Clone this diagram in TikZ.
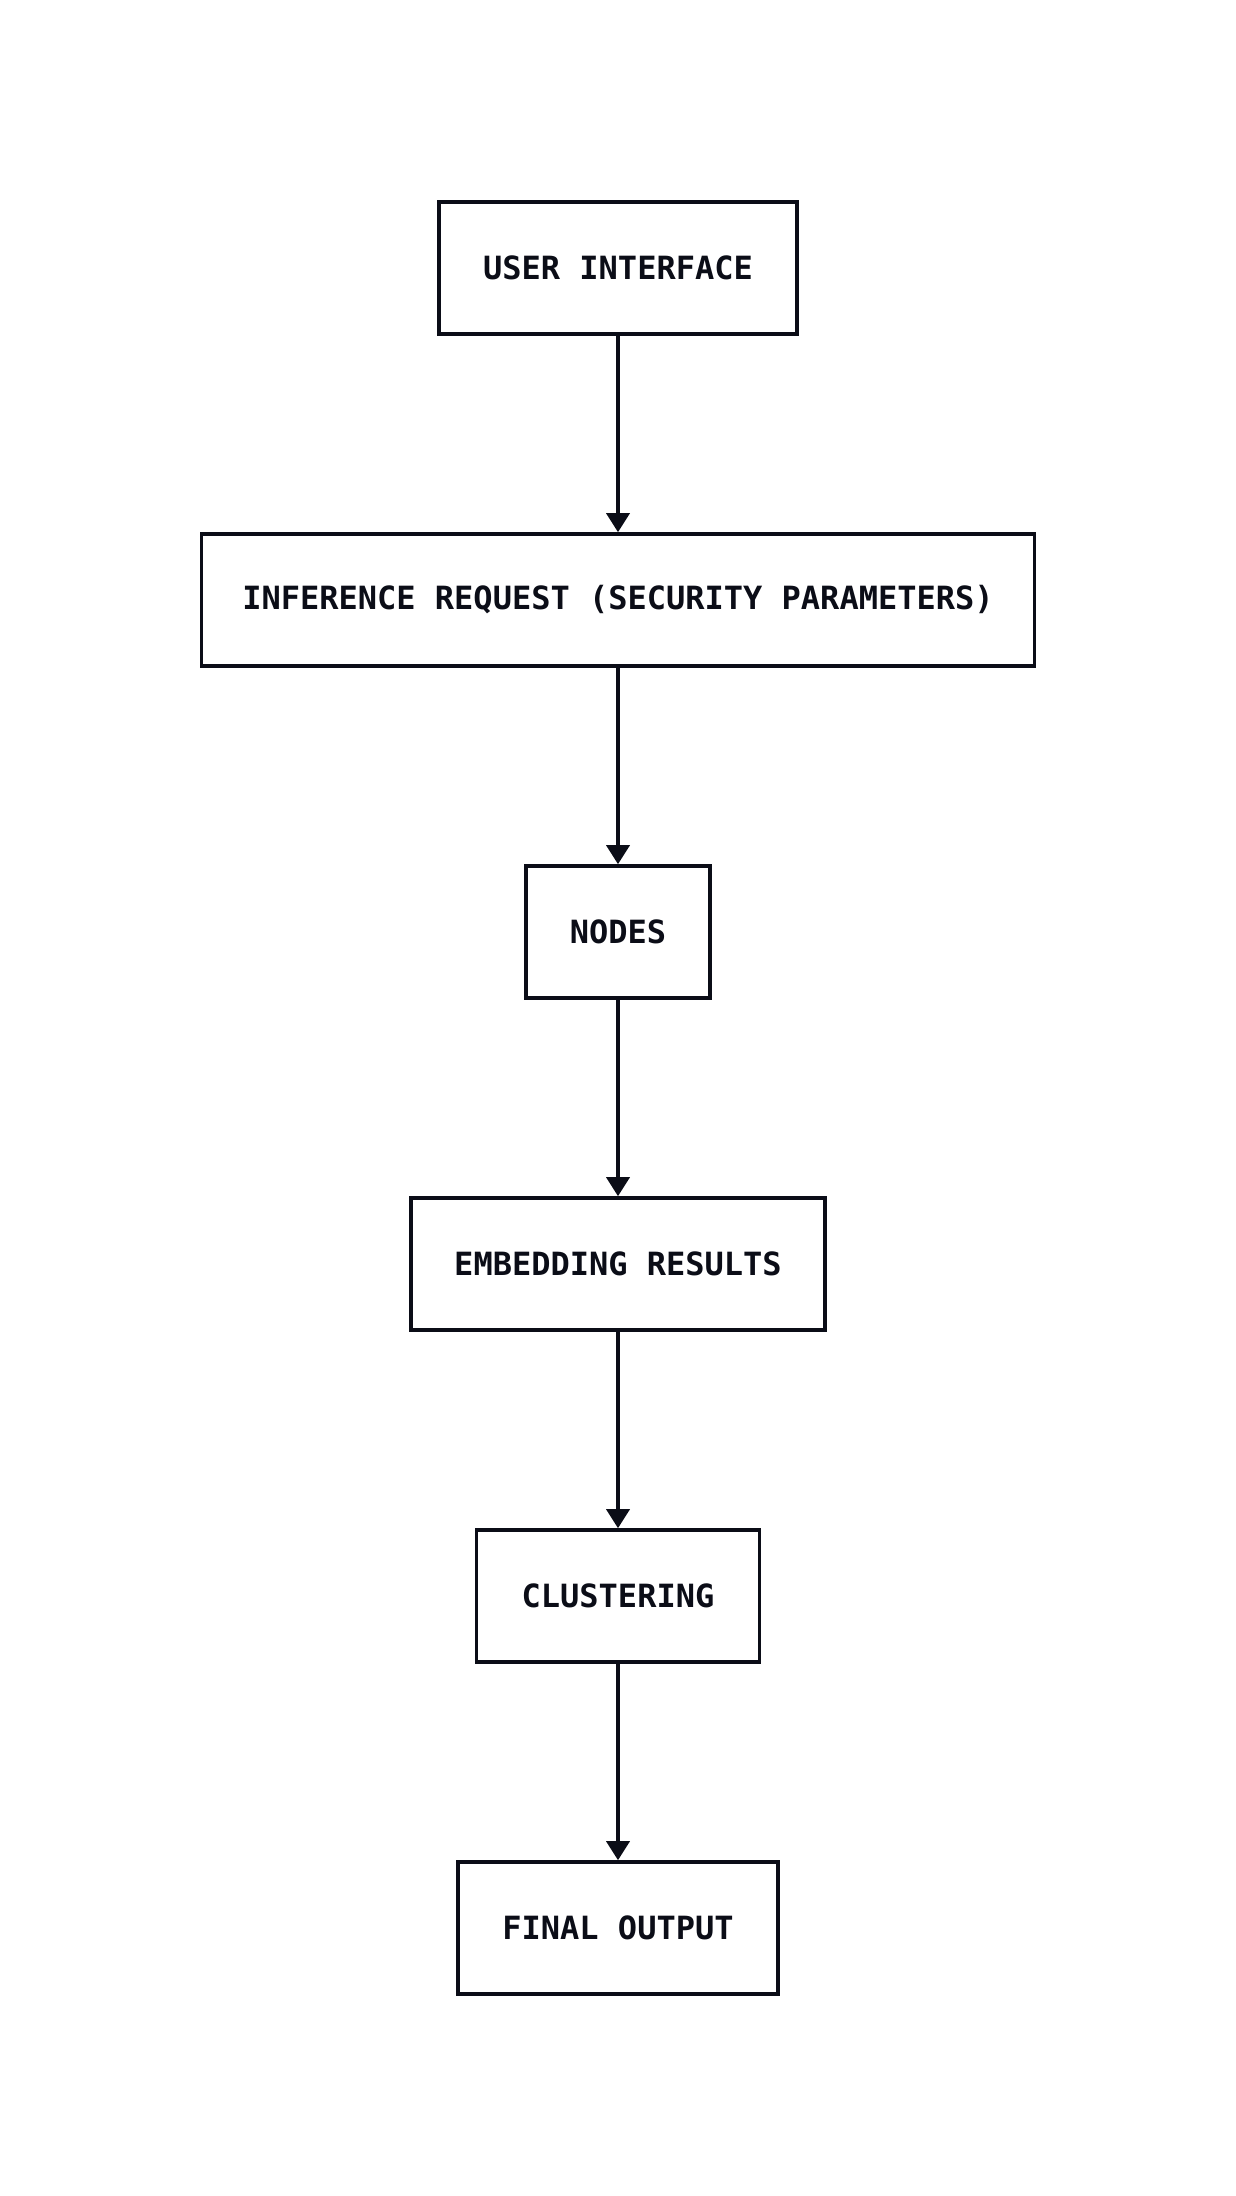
\documentclass[tikz,border=0pt]{standalone}
\usepackage{fontspec}
\setmonofont{DejaVu Sans Mono}
\usetikzlibrary{arrows.meta}
\definecolor{ink}{HTML}{0B0D17}
\begin{document}
\begin{tikzpicture}[x=1pt,y=-1pt,
  box/.style={draw=ink,line width=3.6pt,rectangle,inner sep=0pt,minimum height=132pt,
    text=ink,font=\fontsize{32}{38}\selectfont\ttfamily\bfseries},
  link/.style={draw=ink,line width=3.6pt,-{Triangle[width=23pt,length=19pt]}}]
\useasboundingbox (0,0) rectangle (1236,2196);
\node[box,minimum width=358pt] (ui) at (618,268) {USER INTERFACE};
\node[box,minimum width=833pt] (ir) at (618,600) {INFERENCE REQUEST (SECURITY PARAMETERS)};
\node[box,minimum width=184pt] (nd) at (618,932) {NODES};
\node[box,minimum width=414pt] (er) at (618,1264) {EMBEDDING RESULTS};
\node[box,minimum width=283pt] (cl) at (618,1596) {CLUSTERING};
\node[box,minimum width=320pt] (fo) at (618,1928) {FINAL OUTPUT};
\draw[link] (ui) -- (ir);
\draw[link] (ir) -- (nd);
\draw[link] (nd) -- (er);
\draw[link] (er) -- (cl);
\draw[link] (cl) -- (fo);
\end{tikzpicture}
\end{document}
